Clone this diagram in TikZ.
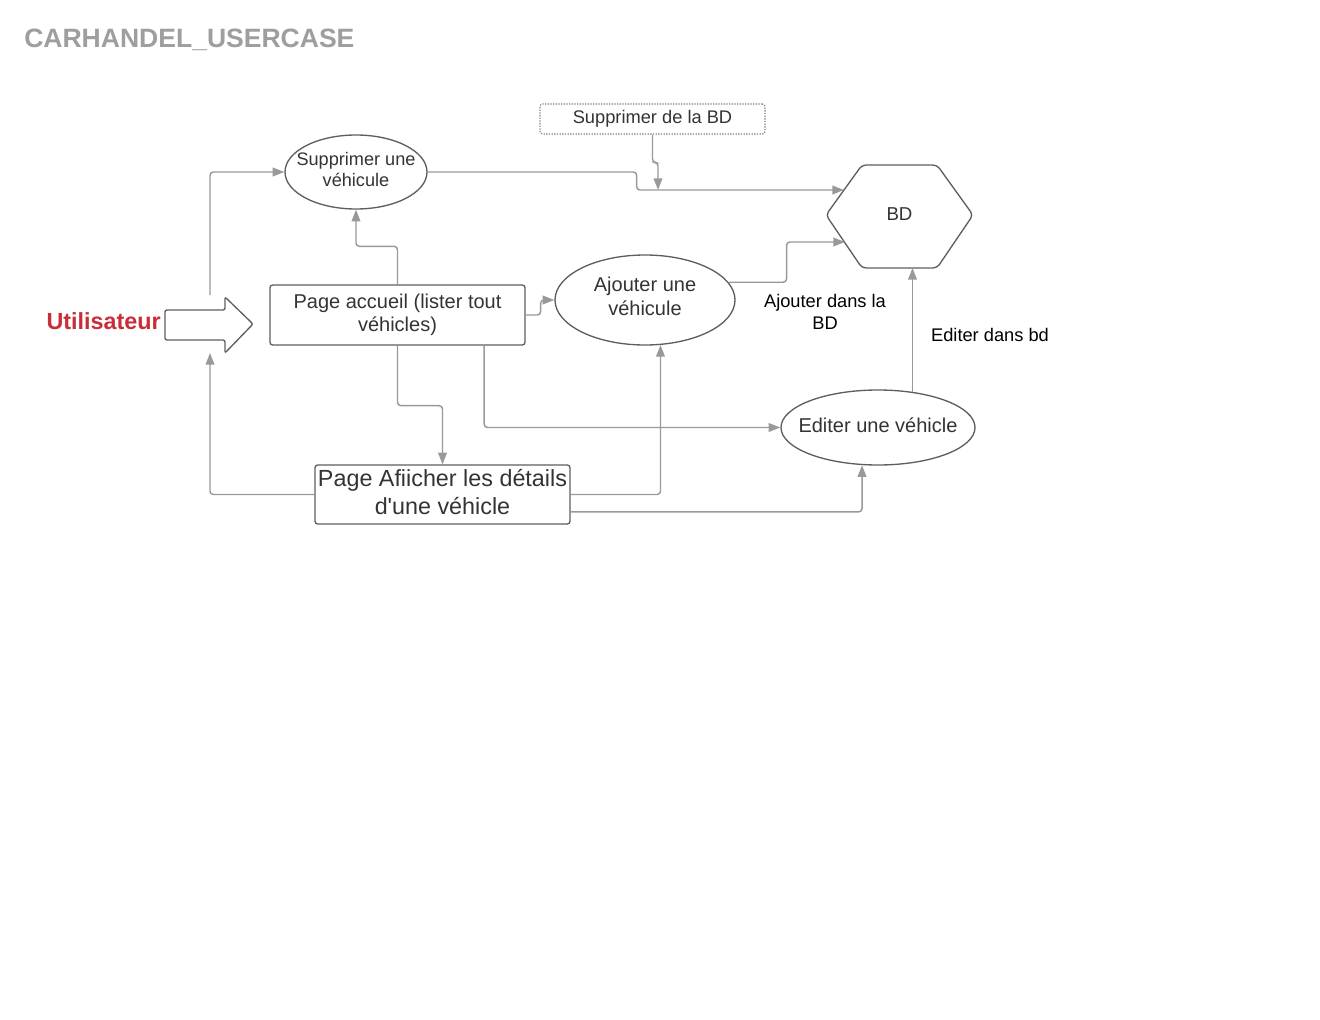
\documentclass[tikz,border=0pt]{standalone}
\usepackage{fontspec}
\setmainfont{Liberation Sans}
\usetikzlibrary{arrows.meta,shapes.geometric}
\definecolor{linegray}{HTML}{999999}
\definecolor{shapegray}{HTML}{5E5E5E}
\definecolor{textgray}{HTML}{333333}
\definecolor{titlegray}{HTML}{9E9E9E}
\definecolor{userred}{HTML}{C92D39}
\begin{document}
\begin{tikzpicture}[x=0.75pt,y=-0.75pt]
\tikzset{box/.style={draw=shapegray,line width=1pt,rounded corners=2pt,align=center,text=textgray,inner sep=0pt}}
\tikzset{oval/.style={ellipse,draw=shapegray,line width=1pt,inner sep=0pt}}
\tikzset{ovaltext/.style={align=center,text=textgray,inner sep=0pt,yshift=1.8pt}}
\tikzset{link/.style={draw=linegray,line width=1.1pt,rounded corners=2.5pt,-{Triangle[length=8.7pt,width=6.5pt]}}}
\tikzset{note/.style={align=center,inner sep=0pt,font=\fontsize{13.7}{16.5}\selectfont}}
\useasboundingbox (0,0) rectangle (1320,1020);
\node[anchor=west,inner sep=0pt,text=titlegray,font=\fontsize{19.9}{24}\selectfont\bfseries] (title) at (24,40) {CARHANDEL\_USERCASE};
\node[anchor=east,inner sep=0pt,text=userred,font=\fontsize{17.5}{21}\selectfont\bfseries] (user) at (161,321) {Utilisateur};
\draw[shapegray,line width=1pt,rounded corners=1.5pt] (165,310) -- (225,310) -- (225,297) -- (253,324) -- (225,353) -- (225,340) -- (165,340) -- cycle;
\coordinate (utop) at (210,295);
\coordinate (ubot) at (210,353);
\node[box,minimum width=191.25pt,minimum height=45pt,font=\fontsize{15}{17.25}\selectfont] (accueil) at (397.5,315) {Page accueil (lister tout\\v\'ehicles)};
\node[box,minimum width=191.25pt,minimum height=44.25pt,label={[ovaltext,font=\fontsize{17.5}{21}\selectfont]center:Page Afiicher les d\'etails\\d\textquotesingle une v\'ehicle}] (details) at (442.5,494.5) {};
\node[oval,minimum width=106.5pt,minimum height=55.5pt,label={[ovaltext,font=\fontsize{13.6}{15.75}\selectfont]center:Supprimer une\\v\'ehicule}] (supp) at (356,172) {};
\node[oval,minimum width=135pt,minimum height=67.5pt,label={[ovaltext,yshift=0.6pt,font=\fontsize{15}{18}\selectfont]center:Ajouter une\\v\'ehicule}] (ajout) at (645,300) {};
\node[oval,minimum width=145.5pt,minimum height=56.25pt,label={[ovaltext,font=\fontsize{15}{18}\selectfont]center:Editer une v\'ehicle}] (edit) at (878,427.5) {};
\node[box,draw=shapegray!80,dash pattern=on 1pt off 1pt,line width=0.8pt,minimum width=168.75pt,minimum height=22.5pt,font=\fontsize{13.7}{16}\selectfont] (suppbd) at (652.5,119) {Supprimer de la BD};
\draw[shapegray,line width=1pt,rounded corners=3pt] (826,215) -- (862,165) -- (937,165) -- (973,215) -- (937,268) -- (862,268) -- cycle;
\node[inner sep=0pt,text=textgray,font=\fontsize{14}{16}\selectfont] (bd) at (899.5,214) {BD};
\coordinate (bdA) at (844,190);
\coordinate (bdB) at (845,242);
\coordinate (hexbot) at (912,268);
\coordinate (joinpt) at (658,190);
\node[note] (addlbl) at (825,312) {Ajouter dans la\\BD};
\node[note] (editlbl) at (990,335) {Editer dans bd};
\draw[link] (utop) |- (supp.west);
\draw[link] (accueil.north) -- ++(0,-38) -| (supp.south);
\draw[link] (supp.east) -- ++(209,0) |- (bdA);
\draw[link] (suppbd.south) -- ++(0,28) -| (joinpt);
\draw[link] (ajout.12) -- ++(58,0) |- (bdB);
\draw[link] (accueil.east) -- ++(15,0) |- (ajout.west);
\draw[link] (accueil.south) -- ++(0,60) -| (details.north);
\draw[link] ([xshift=65pt]accueil.south) |- (edit.west);
\draw[link] (details.east) -| (ajout.-71);
\draw[link] (details.west) -| (ubot);
\draw[link] ([yshift=-13pt]details.east) -| (edit.247);
\draw[link] (edit.46) -- (edit.46 |- hexbot);
\end{tikzpicture}
\end{document}
